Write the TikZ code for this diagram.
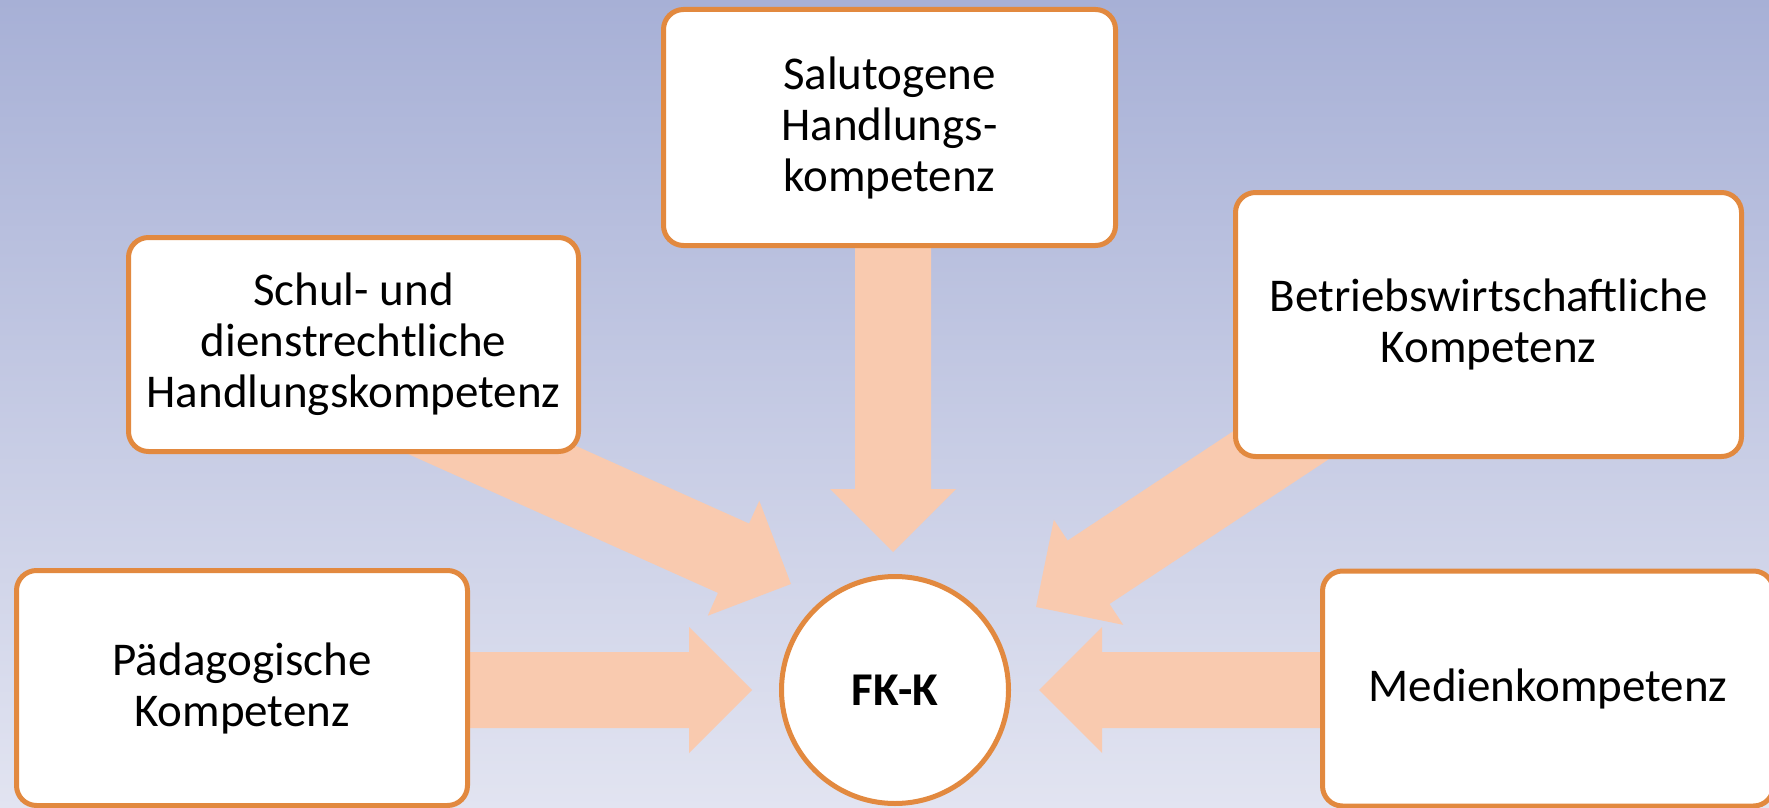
\documentclass[tikz,border=0pt]{standalone}
\usepackage{fontspec}
\setmainfont{Carlito}
\usetikzlibrary{calc}
\definecolor{bgtop}{HTML}{A7B0D6}
\definecolor{bgbot}{HTML}{E2E4F1}
\definecolor{boxline}{HTML}{E2893F}
\definecolor{arrowfill}{HTML}{F9CAAF}
\tikzset{
  kbox/.style={draw=boxline, line width=5pt, fill=white, rounded corners=20pt,
    align=center, font=\fontsize{47}{51}\selectfont, inner sep=0pt},
  kcirc/.style={circle, draw=boxline, line width=5pt, fill=white,
    minimum size=227pt, font=\fontsize{47}{51}\selectfont\bfseries, inner sep=0pt},
  blockfill/.style={fill=arrowfill, draw=none}
}
\newcommand\blockarr[2]{%
  \path let \p1=($(#2)-(#1)$) in \pgfextra{%
    \pgfmathparse{atan2(\y1,\x1)}\xdef\arang{\pgfmathresult}%
    \pgfmathparse{veclen(\x1,\y1)}\xdef\arlen{\pgfmathresult}};
  \fill[blockfill, shift={(#2)}, rotate=\arang]
    (0pt,0pt) -- (-63pt,63pt) -- (-63pt,38pt) -- (-\arlen pt,38pt)
    -- (-\arlen pt,-38pt) -- (-63pt,-38pt) -- (-63pt,-63pt) -- cycle;
}
\begin{document}
\begin{tikzpicture}[x=1pt,y=-1pt]
\useasboundingbox (0,0) rectangle (1769,808);
\clip (0,0) rectangle (1769,808);
\shade[top color=bgtop, bottom color=bgbot] (0,0) rectangle (1769,808);

% arrow anchor points
\coordinate (salS) at (893,200);   \coordinate (salT) at (893,552);
\coordinate (schS) at (385,402);   \coordinate (schT) at (791,584);
\coordinate (betS) at (1354,397);  \coordinate (betT) at (1036,607);
\coordinate (padS) at (300,690);   \coordinate (padT) at (752,690);
\coordinate (medS) at (1500,690);  \coordinate (medT) at (1039,690);

\blockarr{salS}{salT}
\blockarr{schS}{schT}
\blockarr{betS}{betT}
\blockarr{padS}{padT}
\blockarr{medS}{medT}

\node[kbox, minimum width=452pt, minimum height=236pt] (sal) at (889.5,127.5)
  {Salutogene\\Handlungs-\\kompetenz};
\node[kbox, minimum width=450pt, minimum height=214pt] (sch) at (353.5,344.5)
  {Schul- und\\dienstrechtliche\\Handlungskompetenz};
\node[kbox, minimum width=506pt, minimum height=264pt] (bet) at (1488.5,324.5)
  {Betriebswirtschaftliche\\Kompetenz};
\node[kbox, minimum width=451pt, minimum height=235pt] (pad) at (242,688)
  {Pädagogische\\Kompetenz};
\node[kbox, minimum width=451pt, minimum height=235pt] (med) at (1548,688.5)
  {Medienkompetenz};
\node[kcirc] (fk) at (895,690) {FK-K};
\end{tikzpicture}
\end{document}
